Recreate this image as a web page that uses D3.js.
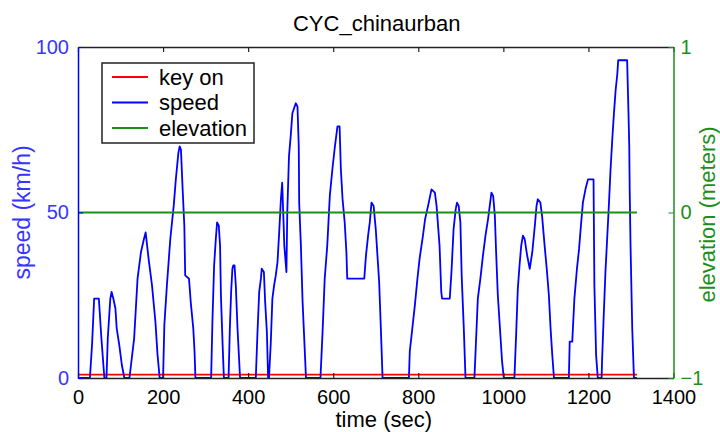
<!DOCTYPE html>
<html>
<head>
<meta charset="utf-8">
<script src="https://cdn.jsdelivr.net/npm/d3@7"></script>
<style>
  body { margin: 0; background: #fff; }
  text { font-family: "Liberation Sans", Arial, sans-serif; }
</style>
</head>
<body>
<div id="chart"></div>
<script>
// drive cycle, vertices
var timeSec = [
  0, 28, 33, 38, 49, 55, 62,
  67, 70, 76, 79, 83, 88, 91, 97, 103, 109,
  121, 132, 140, 148, 155, 159, 166, 174, 182, 187, 192,
  200, 203, 209, 217, 225, 230, 236, 239, 242, 246, 250, 252, 261, 265, 271, 274, 276,
  313, 316, 320, 324, 327, 331, 334, 336, 340, 343,
  354, 357, 360, 363, 365, 368, 371, 375, 381,
  418, 422, 426, 430, 432, 437, 440, 444, 447,
  449, 453, 457, 461, 465, 469, 473, 477, 480, 483, 485, 490, 492, 496, 500, 504, 512, 516, 519, 520, 524, 528, 536,
  570, 575, 580, 586, 592, 598, 604, 610, 615, 618, 622, 627, 631, 633, 673, 677, 682, 686, 690, 695, 700, 704, 708, 712, 716,
  778, 780, 786, 792, 798, 803, 811, 816, 823, 831, 839, 843, 850, 854, 856, 874, 878, 883, 888, 891, 895, 899, 902, 907, 911,
  932, 935, 940, 946, 952, 958, 964, 968, 972, 976, 980, 983, 987, 993, 997, 1001,
  1026, 1030, 1034, 1038, 1042, 1046, 1050, 1056, 1062, 1068, 1074, 1078, 1081, 1087, 1091, 1097, 1102, 1107, 1111, 1115, 1119,
  1154, 1156, 1162, 1167, 1173, 1178, 1183, 1187, 1193, 1199, 1212, 1214, 1218, 1222,
  1231, 1232, 1236, 1240, 1244, 1248, 1252, 1256, 1260, 1264, 1268, 1270, 1291, 1294, 1296, 1297, 1299, 1303, 1307, 1314
];
var speedKmh = [
  0, 0, 10, 24, 24, 12, 0,
  0, 12, 24, 26, 24, 21, 15, 10, 4, 0,
  0, 12, 30, 38, 42, 44, 36, 28, 17, 7, 0,
  0, 16, 28, 42, 52, 60, 68, 70, 69, 57, 46, 31, 30, 23, 15, 8, 0,
  0, 17, 34, 42, 47, 46, 40, 25, 10, 0,
  0, 15, 26, 33, 34, 34, 28, 15, 0,
  0, 14, 26, 30, 33, 32, 23, 14, 0,
  0, 10, 24, 28, 31, 35, 44, 54, 59, 48, 40, 32, 50, 67, 73, 80, 83, 82, 70, 53, 40, 23, 0,
  0, 14, 30, 40, 55, 63, 70, 76, 76, 63, 54, 47, 38, 30, 30, 37, 43, 47, 53, 52, 45, 37, 29, 15, 0,
  0, 8, 15, 22, 30, 36, 43, 48, 52, 57, 56, 52, 40, 26, 24, 24, 32, 45, 51, 53, 52, 47, 31, 15, 0,
  0, 9, 24, 30, 37, 43, 48, 52, 56, 55, 49, 38, 25, 13, 5, 0,
  0, 13, 27, 34, 40, 43, 42, 37, 33, 38, 46, 52, 54, 53, 49, 40, 33, 25, 15, 7, 0,
  0, 11, 11, 24, 33, 39, 47, 53, 57, 60, 60, 28, 7, 0,
  0, 5, 19, 32, 42, 52, 63, 72, 80, 87, 92, 96, 96, 81, 70, 57, 40, 15, 0, 0
];
var keyOnTime = [0, 1314];
var keyOnValue = [1, 1];
var elevTime = [0, 1314];
var elevMeters = [0, 0];

var xTicks = [0, 200, 400, 600, 800, 1000, 1200, 1400];
var speedTicks = [0, 50, 100];
var elevTicks = [-1, 0, 1];
var legendLabels = ["key on", "speed", "elevation"];

var width = 720,
    height = 432;
var margin = {top: 47, right: 46.5, bottom: 54, left: 78};
var w = width - margin.left - margin.right,
    h = height - margin.top - margin.bottom;

var blue = "#0000ff", green = "#1a8f1a", red = "#ff0000";

var svg = d3.select("#chart").append("svg")
    .attr("width", width)
    .attr("height", height);
var g = svg.append("g")
    .attr("transform", "translate(" + margin.left + "," + margin.top + ")");

var x = d3.scaleLinear().domain([0, 1400]).range([0, w]);
var ySpeed = d3.scaleLinear().domain([0, 100]).range([h, 0]);
var yElev = d3.scaleLinear().domain([-1, 1]).range([h, 0]);

// lines
var speedLine = d3.line()
    .x(function(i) { return x(timeSec[i]); })
    .y(function(i) { return ySpeed(speedKmh[i]); });
var keyLine = d3.line()
    .x(function(i) { return x(keyOnTime[i]); })
    .y(function(i) { return ySpeed(keyOnValue[i]); });
var elevLine = d3.line()
    .x(function(i) { return x(elevTime[i]); })
    .y(function(i) { return yElev(elevMeters[i]); });

g.append("path")
    .datum(d3.range(keyOnTime.length))
    .attr("d", keyLine)
    .attr("fill", "none").attr("stroke", red).attr("stroke-width", 1.8);
g.append("path")
    .datum(d3.range(timeSec.length))
    .attr("d", speedLine)
    .attr("fill", "none").attr("stroke", blue).attr("stroke-width", 1.8)
    .attr("stroke-linejoin", "round");
g.append("path")
    .datum(d3.range(elevTime.length))
    .attr("d", elevLine)
    .attr("fill", "none").attr("stroke", green).attr("stroke-width", 1.8);

// axes, ticks inside like matlab
var fs = "20px";
var fmt = d3.format("d");
var xBottom = g.append("g")
    .attr("transform", "translate(0," + h + ")")
    .call(d3.axisBottom(x).tickValues(xTicks).tickFormat(fmt).tickSizeInner(-5).tickSizeOuter(0).tickPadding(12));
var xTop = g.append("g")
    .call(d3.axisTop(x).tickValues(xTicks).tickSizeInner(-5).tickSizeOuter(0).tickFormat(""));
[xBottom, xTop].forEach(function(a) {
    a.select(".domain").attr("stroke", "#222").attr("stroke-width", 1.5);
    a.selectAll(".tick line").attr("stroke", "#222").attr("stroke-width", 1.2);
    a.selectAll("text").attr("fill", "#000").style("font-size", fs).style("font-family", "Liberation Sans, Arial");
});

var yLeft = g.append("g")
    .call(d3.axisLeft(ySpeed).tickValues(speedTicks).tickFormat(fmt).tickSizeInner(-5).tickSizeOuter(0).tickPadding(9));
yLeft.select(".domain").attr("stroke", blue).attr("stroke-width", 1.5);
yLeft.selectAll(".tick line").attr("stroke", blue);
yLeft.selectAll("text").attr("fill", "#3535ff").style("font-size", fs).style("font-family", "Liberation Sans, Arial");

var yRight = g.append("g")
    .attr("transform", "translate(" + w + ",0)")
    .call(d3.axisRight(yElev).tickValues(elevTicks).tickFormat(fmt).tickSizeInner(-5).tickSizeOuter(0).tickPadding(7));
yRight.select(".domain").attr("stroke", green).attr("stroke-width", 1.5);
yRight.selectAll(".tick line").attr("stroke", green);
yRight.selectAll("text").attr("fill", green).style("font-size", fs).style("font-family", "Liberation Sans, Arial");

// titles
svg.append("text")
    .attr("x", margin.left + w / 2 + 1).attr("y", 31)
    .attr("text-anchor", "middle")
    .style("font-size", "22px")
    .text("CYC_chinaurban");
svg.append("text")
    .attr("x", margin.left + w / 2 + 8).attr("y", 427)
    .attr("text-anchor", "middle")
    .style("font-size", "22px")
    .text("time (sec)");
svg.append("text")
    .attr("transform", "translate(30," + (margin.top + h / 2) + ") rotate(-90)")
    .attr("text-anchor", "middle")
    .attr("fill", "#3535ff")
    .style("font-size", "23px")
    .text("speed (km/h)");
svg.append("text")
    .attr("transform", "translate(715," + (margin.top + h / 2 + 2) + ") rotate(-90)")
    .attr("text-anchor", "middle")
    .attr("fill", green)
    .style("font-size", "22px")
    .text("elevation (meters)");

// legend
var legendColors = [red, blue, green];
var lg = svg.append("g").attr("transform", "translate(102,63)");
lg.append("rect")
    .attr("width", 152).attr("height", 80)
    .attr("fill", "#fff").attr("stroke", "#222").attr("stroke-width", 1.5);
legendLabels.forEach(function(lab, i) {
    var yy = 14 + i * 25.5;
    lg.append("line")
        .attr("x1", 10).attr("x2", 46).attr("y1", yy).attr("y2", yy)
        .attr("stroke", legendColors[i]).attr("stroke-width", 1.8);
    lg.append("text")
        .attr("x", 57).attr("y", yy + 7.5)
        .style("font-size", "22px")
        .text(lab);
});
</script>
</body>
</html>
